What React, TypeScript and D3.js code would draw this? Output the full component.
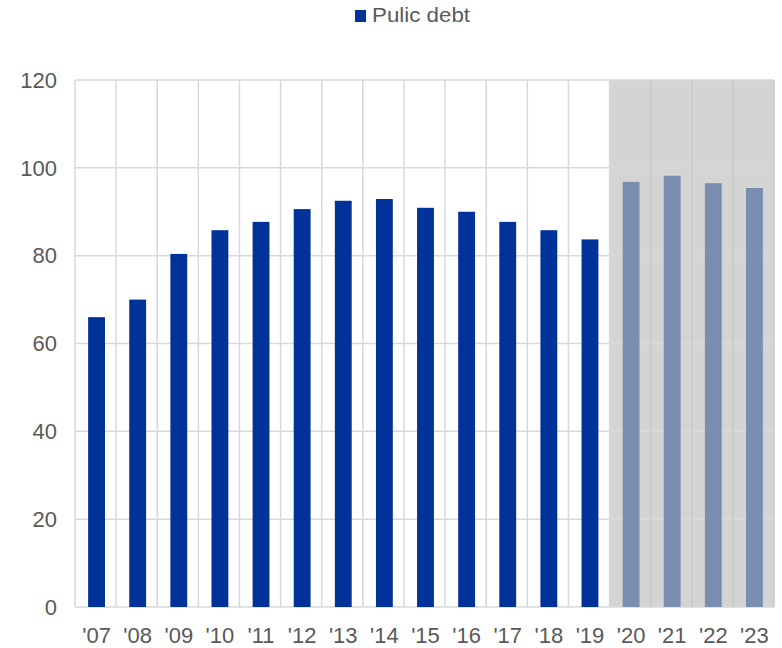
import React from 'react'
import * as d3 from 'd3'

const years = ["'07", "'08", "'09", "'10", "'11", "'12", "'13", "'14", "'15", "'16", "'17", "'18", "'19", "'20", "'21", "'22", "'23"]
const debt = [66, 70, 80.4, 85.8, 87.7, 90.6, 92.5, 92.9, 90.9, 90.0, 87.7, 85.8, 83.7, 96.8, 98.2, 96.5, 95.4]
const projected = ["'20", "'21", "'22", "'23"]
const yTicks = [0, 20, 40, 60, 80, 100, 120]

const width = 782
const height = 648
const margin = { top: 80, right: 8, bottom: 41, left: 75 }

export default function App () {
  const x = d3.scaleBand()
    .domain(years)
    .range([margin.left, width - margin.right])
  const y = d3.scaleLinear()
    .domain([0, 120])
    .range([height - margin.bottom, margin.top])

  const bw = x.bandwidth() * 0.41
  const shadeX = x(projected[0]) as number
  const font = '"Liberation Sans", Arial, sans-serif'

  return (
    <svg width={width} height={height} style={{ position: 'absolute', left: 0, top: 0 }}>
      {/* shaded projection zone */}
      <rect x={shadeX} y={y(120)} width={width - margin.right - shadeX} height={y(0) - y(120)} fill='#d4d4d4' />
      {/* horizontal grid */}
      {yTicks.map(t => (
        <line key={'h' + t} x1={margin.left} x2={width - margin.right} y1={y(t)} y2={y(t)}
          stroke='#d9d9d9' strokeWidth={1.5} />
      ))}
      {/* vertical grid */}
      {years.map((yr, i) => (
        <line key={'v' + yr} x1={x(yr)} x2={x(yr)} y1={y(120)} y2={y(0)}
          stroke={i > years.indexOf(projected[0]) ? '#c8c8c8' : '#d9d9d9'} strokeWidth={1.5} />
      ))}
      <line x1={width - margin.right} x2={width - margin.right} y1={y(120)} y2={y(0)} stroke='#c8c8c8' strokeWidth={1.5} />
      {/* bars */}
      {years.map((yr, i) => (
        <rect key={'b' + yr}
          x={(x(yr) as number) + x.bandwidth() / 2 - bw / 2 + 1}
          y={y(debt[i])}
          width={bw}
          height={y(0) - y(debt[i])}
          fill={projected.includes(yr) ? '#7b8db0' : '#003299'} />
      ))}
      {/* y labels */}
      {yTicks.map(t => (
        <text key={'yl' + t} x={57} y={y(t)} dy='0.35em' textAnchor='end'
          fontFamily={font} fontSize={22} fill='#595959'>{t}</text>
      ))}
      {/* x labels */}
      {years.map(yr => (
        <text key={'xl' + yr} x={(x(yr) as number) + x.bandwidth() / 2 + 1} y={643} textAnchor='middle'
          fontFamily={font} fontSize={22} fill='#595959'>{yr}</text>
      ))}
      {/* legend */}
      <rect x={355} y={10} width={11} height={12} fill='#003299' />
      <text x={372} y={22} fontFamily={font} fontSize={21} fill='#595959'
        textLength={98} lengthAdjust='spacingAndGlyphs'>Pulic debt</text>
    </svg>
  )
}
